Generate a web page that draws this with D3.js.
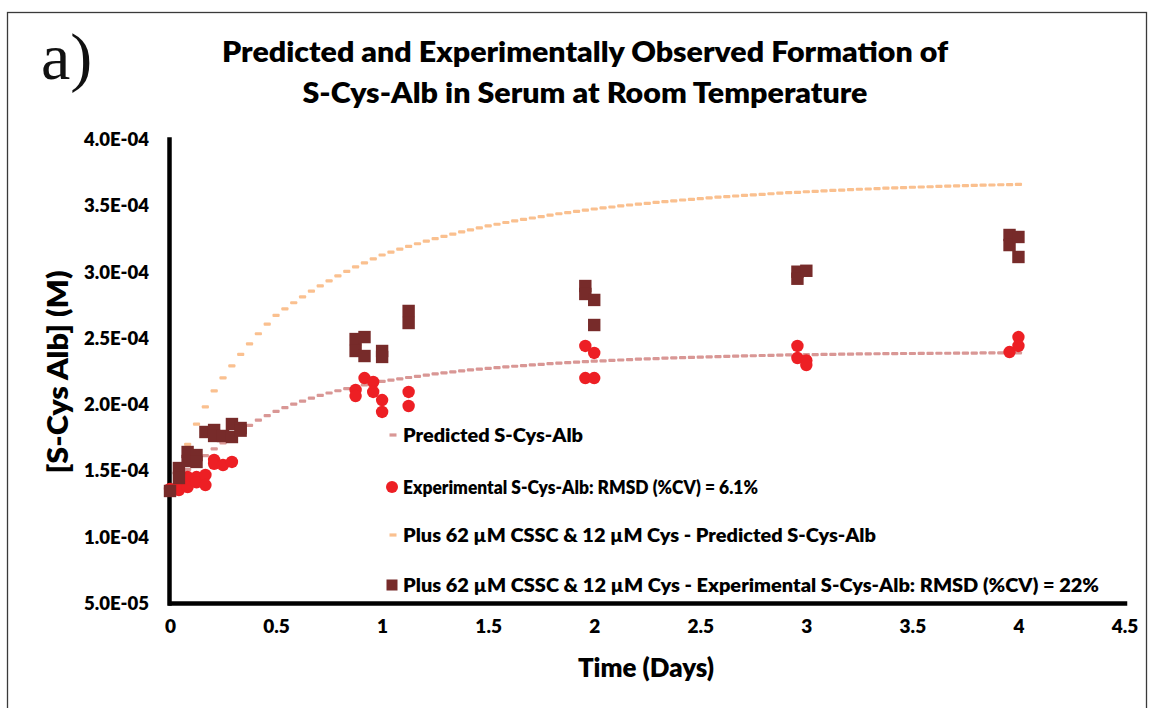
<!DOCTYPE html>
<html>
<head>
<meta charset="utf-8">
<script src="https://cdn.jsdelivr.net/npm/d3@7"></script>
<style>
  html, body { margin: 0; padding: 0; background: #fff; }
  svg { display: block; font-family: Lato, "Open Sans", sans-serif; }
</style>
</head>
<body>
<svg id="chart" width="1153" height="708"></svg>
<script>
// Concentrations are stored in units of 1e-4 M.
const UNIT = 1e-4;

// Model predictions, one value per hour from 0 to 96 h.
const predicted = [
  1.380,1.447,1.507,1.562,1.612,1.662,1.708,1.752,1.797,1.840,
  1.880,1.913,1.945,1.974,2.000,2.023,2.045,2.066,2.084,2.101,
  2.117,2.132,2.146,2.159,2.171,2.181,2.191,2.201,2.210,2.219,
  2.228,2.236,2.244,2.251,2.258,2.264,2.270,2.275,2.281,2.286,
  2.291,2.296,2.300,2.305,2.309,2.313,2.317,2.320,2.324,2.327,
  2.330,2.333,2.336,2.339,2.342,2.344,2.347,2.349,2.351,2.353,
  2.355,2.357,2.359,2.361,2.362,2.364,2.365,2.367,2.368,2.369,
  2.371,2.372,2.373,2.374,2.375,2.376,2.377,2.378,2.379,2.379,
  2.380,2.381,2.381,2.382,2.382,2.383,2.383,2.384,2.384,2.385,
  2.385,2.385,2.386,2.386,2.386,2.387,2.387
];
const predictedPlus = [
  1.351,1.532,1.696,1.850,1.980,2.100,2.198,2.289,2.375,2.455,
  2.531,2.603,2.670,2.718,2.765,2.809,2.852,2.892,2.930,2.967,
  3.002,3.035,3.066,3.096,3.125,3.147,3.169,3.190,3.210,3.229,
  3.248,3.265,3.282,3.299,3.314,3.330,3.344,3.357,3.370,3.382,
  3.393,3.404,3.415,3.426,3.436,3.445,3.454,3.463,3.472,3.480,
  3.487,3.495,3.502,3.509,3.515,3.522,3.528,3.534,3.540,3.545,
  3.550,3.556,3.561,3.566,3.570,3.575,3.579,3.583,3.587,3.591,
  3.595,3.598,3.602,3.605,3.609,3.612,3.615,3.618,3.621,3.623,
  3.626,3.629,3.631,3.633,3.636,3.638,3.640,3.642,3.644,3.646,
  3.648,3.650,3.652,3.653,3.655,3.656,3.658
];
const predStepDays = 1 / 24;

// Measured S-Cys-Alb (days, 1e-4 M)
const expTime = [
  0, 0.042, 0.042, 0.083, 0.083, 0.125, 0.125, 0.167, 0.167, 0.208, 0.208, 0.25, 0.292,
  0.875, 0.875, 0.917, 0.958, 0.958, 1.0, 1.0, 1.125, 1.125,
  1.958, 1.958, 2.0, 2.0,
  2.958, 2.958, 3.0, 3.0,
  3.958, 4.0, 4.0
];
const expValue = [
  1.36, 1.352, 1.39, 1.45, 1.375, 1.45, 1.41, 1.466, 1.39, 1.579, 1.55, 1.541, 1.564,
  2.107, 2.061, 2.197, 2.167, 2.092, 2.031, 1.941, 2.092, 1.986,
  2.439, 2.197, 2.386, 2.197,
  2.439, 2.348, 2.33, 2.295,
  2.393, 2.506, 2.439
];

// Measured S-Cys-Alb with 62 µM CSSC & 12 µM Cys added (days, 1e-4 M)
const plusTime = [
  0, 0.042, 0.042, 0.083, 0.083, 0.125, 0.125, 0.167, 0.208, 0.208, 0.25, 0.292, 0.292, 0.333, 0.333,
  0.875, 0.875, 0.917, 0.917, 1.0, 1.0, 1.125, 1.125,
  1.958, 1.958, 2.0, 2.0,
  2.958, 2.958, 3.0,
  3.958, 3.958, 4.0, 4.0
];
const plusValue = [
  1.345, 1.518, 1.443, 1.639, 1.571, 1.616, 1.564, 1.79, 1.805, 1.76, 1.76, 1.85, 1.752, 1.82, 1.80,
  2.491, 2.401, 2.506, 2.363, 2.401, 2.356, 2.703, 2.612,
  2.891, 2.831, 2.786, 2.597,
  2.999, 2.946, 3.006,
  3.276, 3.200, 3.261, 3.110
];

const xTicks = [0, 0.5, 1, 1.5, 2, 2.5, 3, 3.5, 4, 4.5];
const yTicks = [5e-5, 1e-4, 1.5e-4, 2e-4, 2.5e-4, 3e-4, 3.5e-4, 4e-4];

const titleLines = [
  "Predicted and Experimentally Observed Formation of",
  "S-Cys-Alb in Serum at Room Temperature"
];
const panelLabel = "a)";
const xTitle = "Time (Days)";
const yTitle = "[S-Cys Alb] (M)";
const legendLabels = [
  "Predicted S-Cys-Alb",
  "Experimental S-Cys-Alb: RMSD (%CV) = 6.1%",
  "Plus 62 µM CSSC & 12 µM Cys - Predicted S-Cys-Alb",
  "Plus 62 µM CSSC & 12 µM Cys - Experimental S-Cys-Alb: RMSD (%CV) = 22%"
];

const colors = {
  predicted: "#d99795",
  experimental: "#ed1f24",
  predictedPlus: "#fac08f",
  experimentalPlus: "#772b2a"
};

const svg = d3.select("#chart");

// outer frame
svg.append("rect")
  .attr("x", 7.5).attr("y", 12.5).attr("width", 1139).attr("height", 720)
  .attr("fill", "none").attr("stroke", "#3a3a3a").attr("stroke-width", 1.3);

const x = d3.scaleLinear().domain([0, 4.5]).range([170, 1124.5]);
const y = d3.scaleLinear().domain([5e-5, 4e-4]).range([603, 139]);

const fmtSci = d => {
  const [m, e] = d.toExponential(1).split("e");
  const n = Math.abs(+e);
  return m + "E" + (+e < 0 ? "-" : "+") + String(n).padStart(2, "0");
};

// axes
const yAxis = svg.append("g")
  .attr("transform", "translate(169,0)")
  .call(d3.axisLeft(y).tickValues(yTicks).tickFormat(fmtSci).tickSize(0).tickPadding(20));
const xAxis = svg.append("g")
  .attr("transform", "translate(0,603)")
  .call(d3.axisBottom(x).tickValues(xTicks).tickFormat(d3.format("")).tickSize(0).tickPadding(17));

[yAxis, xAxis].forEach(g => {
  g.select(".domain").attr("stroke", "#000").attr("stroke-width", 4.5).attr("stroke-linecap", "square");
  g.selectAll("text").attr("fill", "#000").attr("font-weight", 800).attr("font-family", "Lato, sans-serif");
});
yAxis.selectAll("text").attr("font-size", 18).attr("dy", "0.36em")
  .attr("textLength", 65).attr("lengthAdjust", "spacingAndGlyphs");
xAxis.selectAll("text").attr("font-size", 19);

const unitY = v => y(v * UNIT);

// dash marker helper
function dashes(values, color) {
  svg.append("g").selectAll("rect")
    .data(values)
    .join("rect")
    .attr("x", (d, i) => x(i * predStepDays) - 3.6)
    .attr("y", d => unitY(d) - 1.6)
    .attr("width", 7.2).attr("height", 3.2).attr("rx", 1)
    .attr("fill", color);
}

// series drawn in legend order
dashes(predicted, colors.predicted);

svg.append("g").selectAll("circle")
  .data(expTime.map((t, i) => [t, expValue[i]]))
  .join("circle")
  .attr("cx", d => x(d[0])).attr("cy", d => unitY(d[1])).attr("r", 6.2)
  .attr("fill", colors.experimental);

dashes(predictedPlus, colors.predictedPlus);

const sq = 12.4;
svg.append("g").selectAll("rect")
  .data(plusTime.map((t, i) => [t, plusValue[i]]))
  .join("rect")
  .attr("x", d => x(d[0]) - sq / 2).attr("y", d => unitY(d[1]) - sq / 2)
  .attr("width", sq).attr("height", sq)
  .attr("fill", colors.experimentalPlus);

// titles
const titleWidths = [726, 565];
svg.append("g").selectAll("text")
  .data(titleLines)
  .join("text")
  .attr("x", 585).attr("y", (d, i) => 62 + i * 41)
  .attr("text-anchor", "middle")
  .attr("font-size", 28).attr("font-weight", 800)
  .attr("textLength", (d, i) => titleWidths[i]).attr("lengthAdjust", "spacingAndGlyphs")
  .text(d => d);

svg.append("text")
  .attr("x", 41).attr("y", 79)
  .attr("font-family", "'Liberation Serif', serif").attr("font-size", 66)
  .attr("fill", "#111")
  .text(panelLabel);

svg.append("text")
  .attr("x", 646).attr("y", 677)
  .attr("text-anchor", "middle").attr("font-size", 26).attr("font-weight", 800)
  .attr("textLength", 136).attr("lengthAdjust", "spacingAndGlyphs")
  .text(xTitle);

svg.append("text")
  .attr("transform", "translate(68,372) rotate(-90)")
  .attr("text-anchor", "middle").attr("font-size", 29).attr("font-weight", 800)
  .attr("textLength", 203).attr("lengthAdjust", "spacingAndGlyphs")
  .text(yTitle);

// legend
const legendY = [435, 487, 535, 585];
const legendWidths = [180, 355, 473, 696];
const leg = svg.append("g");
legendLabels.forEach((label, i) => {
  const cy = legendY[i];
  if (i === 0 || i === 2) {
    leg.append("rect").attr("x", 389.5).attr("y", cy - 1.6).attr("width", 7).attr("height", 3.2)
      .attr("fill", i === 0 ? colors.predicted : colors.predictedPlus);
  } else if (i === 1) {
    leg.append("circle").attr("cx", 392).attr("cy", cy).attr("r", 6).attr("fill", colors.experimental);
  } else {
    leg.append("rect").attr("x", 386.5).attr("y", cy - 5.5).attr("width", 11).attr("height", 11)
      .attr("fill", colors.experimentalPlus);
  }
  leg.append("text")
    .attr("x", 403).attr("y", cy + 6.5)
    .attr("font-size", 19).attr("font-weight", 800)
    .attr("textLength", legendWidths[i]).attr("lengthAdjust", "spacingAndGlyphs")
    .text(label);
});
</script>
</body>
</html>
